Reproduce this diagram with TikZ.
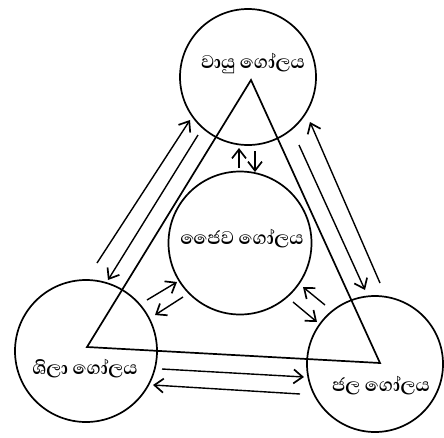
\documentclass[tikz,border=0pt]{standalone}
\usepackage{fontspec}
\newfontfamily\sinhala[Script=Sinhala]{Abhaya Libre}
\usetikzlibrary{arrows.meta}
\tikzset{
  sphere/.style={circle, draw, line width=1.7pt, inner sep=0pt},
  lbl/.style={font=\sinhala\bfseries\fontsize{23.5}{25}\selectfont, inner sep=0pt},
  flow/.style={line width=1.4pt, -{Straight Barb[length=9pt,width=14pt,line width=1.7pt]}},
  edge/.style={line width=1.7pt, line join=miter}
}
\begin{document}
\begin{tikzpicture}[x=1pt,y=-1pt]
\useasboundingbox (0,0) rectangle (444,437);
\fill[white] (0,0) rectangle (444,437);

% the four spheres
\node[sphere, minimum size=136pt] (air)   at (248,77)  {};
\node[sphere, minimum size=143pt] (bio)   at (240,243) {};
\node[sphere, minimum size=142pt] (rock)  at (86,351)  {};
\node[sphere, minimum size=136pt] (water) at (375,364) {};

% their names
\node[lbl] (airT)   at (253,63)  {වායු ගෝලය};
\node[lbl] (bioT)   at (242,239) {ජෛව ගෝලය};
\node[lbl] (rockT)  at (85,369)  {ශිලා ගෝලය};
\node[lbl] (waterT) at (381,386) {ජල ගෝලය};

% triangle joining the spheres
\coordinate (tA) at (251,80);
\coordinate (tB) at (87,347);
\coordinate (tC) at (380,363);
\draw[edge] (tA) -- (tB) -- (tC) -- cycle;

% exchange between air and rock
\coordinate (a1s) at (97,263);  \coordinate (a1e) at (190,120);
\coordinate (a2s) at (198,135); \coordinate (a2e) at (108,280);
\draw[flow] (a1s) -- (a1e);
\draw[flow] (a2s) -- (a2e);

% exchange between air and water
\coordinate (b1s) at (380,283); \coordinate (b1e) at (310,122);
\coordinate (b2s) at (299,145); \coordinate (b2e) at (365,290);
\draw[flow] (b1s) -- (b1e);
\draw[flow] (b2s) -- (b2e);

% exchange between air and life
\coordinate (c1s) at (239,168); \coordinate (c1e) at (239,148);
\coordinate (c2s) at (255,151); \coordinate (c2e) at (255,172);
\draw[flow] (c1s) -- (c1e);
\draw[flow] (c2s) -- (c2e);

% exchange between life and rock
\coordinate (d1s) at (147,300); \coordinate (d1e) at (177,282);
\coordinate (d2s) at (183,297); \coordinate (d2e) at (155,315);
\draw[flow] (d1s) -- (d1e);
\draw[flow] (d2s) -- (d2e);

% exchange between life and water
\coordinate (e1s) at (325,305); \coordinate (e1e) at (303,287);
\coordinate (e2s) at (293,302); \coordinate (e2e) at (317,322);
\draw[flow] (e1s) -- (e1e);
\draw[flow] (e2s) -- (e2e);

% exchange between rock and water
\coordinate (f1s) at (162,369); \coordinate (f1e) at (304,377);
\coordinate (f2s) at (300,394); \coordinate (f2e) at (153,385);
\draw[flow] (f1s) -- (f1e);
\draw[flow] (f2s) -- (f2e);
\end{tikzpicture}
\end{document}
